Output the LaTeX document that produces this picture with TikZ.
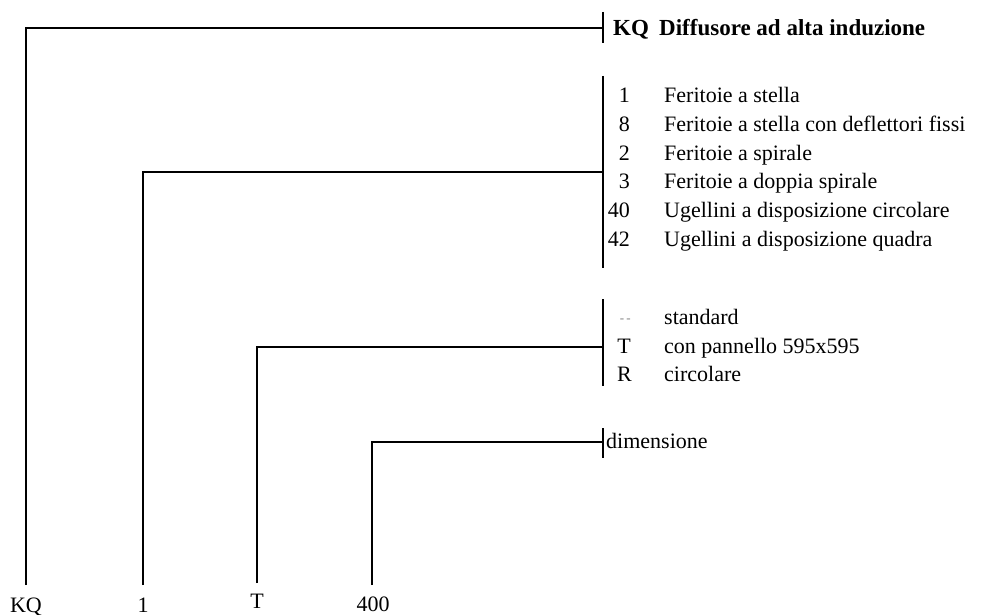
\documentclass[tikz,border=0pt]{standalone}
\usepackage{fontspec}
\setmainfont{Liberation Serif}
\begin{document}
\begin{tikzpicture}[x=1pt,y=-1pt,
  wire/.style={line width=1.7pt},
  lbl/.style={font=\fontsize{22}{24}\selectfont, inner sep=0pt},
  code/.style={lbl, anchor=base east},
  desc/.style={lbl, anchor=base west},
  hdr/.style={desc, font=\fontsize{23}{25}\selectfont\bfseries},
  bot/.style={lbl, anchor=base}]
\useasboundingbox (0,0) rectangle (1002,615);
% bottom labels
\node[bot] (b1) at (26,612) {KQ};
\node[bot] (b2) at (143,612) {1};
\node[bot] (b3) at (257,608) {T};
\node[bot] (b4) at (373,611) {400};
% brackets
\coordinate (k1t) at (603,12); \coordinate (k1b) at (603,43);
\coordinate (k2t) at (603,76); \coordinate (k2b) at (603,268);
\coordinate (k3t) at (603,299); \coordinate (k3b) at (603,386);
\coordinate (k4t) at (603,428); \coordinate (k4b) at (603,458);
\draw[wire] (k1t) -- (k1b);
\draw[wire] (k2t) -- (k2b);
\draw[wire] (k3t) -- (k3b);
\draw[wire] (k4t) -- (k4b);
% connectors
\coordinate (s1) at (26,585); \coordinate (e1) at (603,28);
\coordinate (s2) at (143,585); \coordinate (e2) at (603,172);
\coordinate (s3) at (257,583); \coordinate (e3) at (603,347);
\coordinate (s4) at (372,585); \coordinate (e4) at (603,442);
\draw[wire] (s1) |- (e1);
\draw[wire] (s2) |- (e2);
\draw[wire] (s3) |- (e3);
\draw[wire] (s4) |- (e4);
% header
\node[hdr] (h1) at (613,36) {KQ};
\node[hdr] (h2) at (659,36) {Diffusore ad alta induzione};
% group 2
\node[code] (c21) at (630,103) {1};
\node[desc] (d21) at (664,103) {Feritoie a stella};
\node[code] (c22) at (630,131.6) {8};
\node[desc] (d22) at (664,131.6) {Feritoie a stella con deflettori fissi};
\node[code] (c23) at (630,160.2) {2};
\node[desc] (d23) at (664,160.2) {Feritoie a spirale};
\node[code] (c24) at (630,188.8) {3};
\node[desc] (d24) at (664,188.8) {Feritoie a doppia spirale};
\node[code] (c25) at (630,217.4) {40};
\node[desc] (d25) at (664,217.4) {Ugellini a disposizione circolare};
\node[code] (c26) at (630,246) {42};
\node[desc] (d26) at (664,246) {Ugellini a disposizione quadra};
% group 3
\node[code, font=\fontsize{13}{14}\selectfont, text=gray] (c31) at (631,322) {-\,-};
\node[desc] (d31) at (664,324) {standard};
\node[code] (c32) at (631,353) {T};
\node[code] (c33) at (632,381) {R};
\node[desc] (d32) at (664,353) {con pannello 595x595};
\node[desc] (d33) at (664,381) {circolare};
% group 4
\node[desc] (d41) at (606,448) {dimensione};
\end{tikzpicture}
\end{document}
